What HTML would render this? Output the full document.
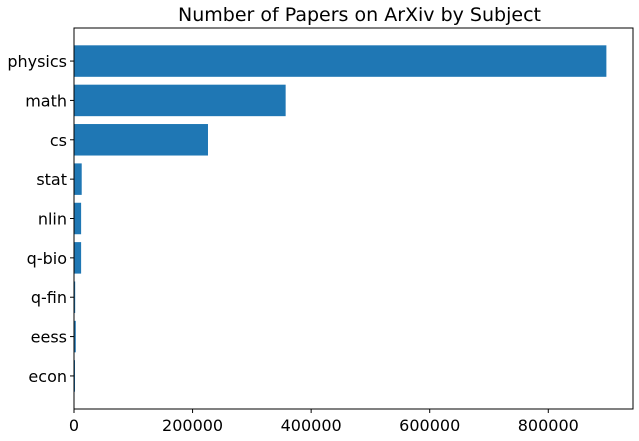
<!DOCTYPE html>
<html><head><meta charset="utf-8"><style>
body{margin:0;background:#fff;font-family:"DejaVu Sans","Liberation Sans",sans-serif}
</style></head><body>
<svg id="chart" width="639" height="437" xmlns="http://www.w3.org/2000/svg" font-family="DejaVu Sans, Liberation Sans, sans-serif"></svg>
<script>
const categories=["physics","math","cs","stat","nlin","q-bio","q-fin","eess","econ"];
const values=[898000,357000,226000,13000,12000,12000,2000,3000,1000];
const xTicks=[0,200000,400000,600000,800000];
const xTickLabels=["0","200000","400000","600000","800000"];
const NS="http://www.w3.org/2000/svg";
const svg=document.getElementById('chart');
const L=74,R=633,T=28,B=409;
const xmax=Math.max(...values)*1.05;
const x=v=>L+v/xmax*(R-L);
const n=categories.length;
const yspan=(n-1+0.8)*1.1;
const step=(B-T)/yspan;
const y=i=>T+(0.4+(n-1+0.8)*0.05+i)*step;
function mk(tag,attrs,txt){const e=document.createElementNS(NS,tag);for(const k in attrs)e.setAttribute(k,attrs[k]);if(txt!=null)e.textContent=txt;svg.appendChild(e);return e;}
const title=mk('text',{x:(L+R)/2+6,y:21,'text-anchor':'middle','font-size':19,fill:'#000'},'Number of Papers on ArXiv by Subject');


categories.forEach((c,i)=>{
  const cy=y(i);
  const b=mk('rect',{x:L,y:cy-0.4*step,width:Math.max(x(values[i])-L,1),height:0.8*step,fill:'#1f77b4'});
  
  
  mk('line',{x1:L-4,x2:L,y1:cy,y2:cy,stroke:'#000','stroke-width':1});
  const t=mk('text',{x:L-7,y:cy+6,'text-anchor':'end','font-size':16,fill:'#000'},c);
  
  
});
xTicks.forEach((v,i)=>{
  const px=x(v);
  mk('line',{x1:px,x2:px,y1:B,y2:B+4,stroke:'#000','stroke-width':1});
  const t=mk('text',{x:px,y:B+22,'text-anchor':'middle','font-size':16,fill:'#000'},xTickLabels[i]);
  
  
});
const f=mk('rect',{x:L,y:T,width:R-L,height:B-T,fill:'none',stroke:'#000','stroke-width':1});


</script>
</body></html>
